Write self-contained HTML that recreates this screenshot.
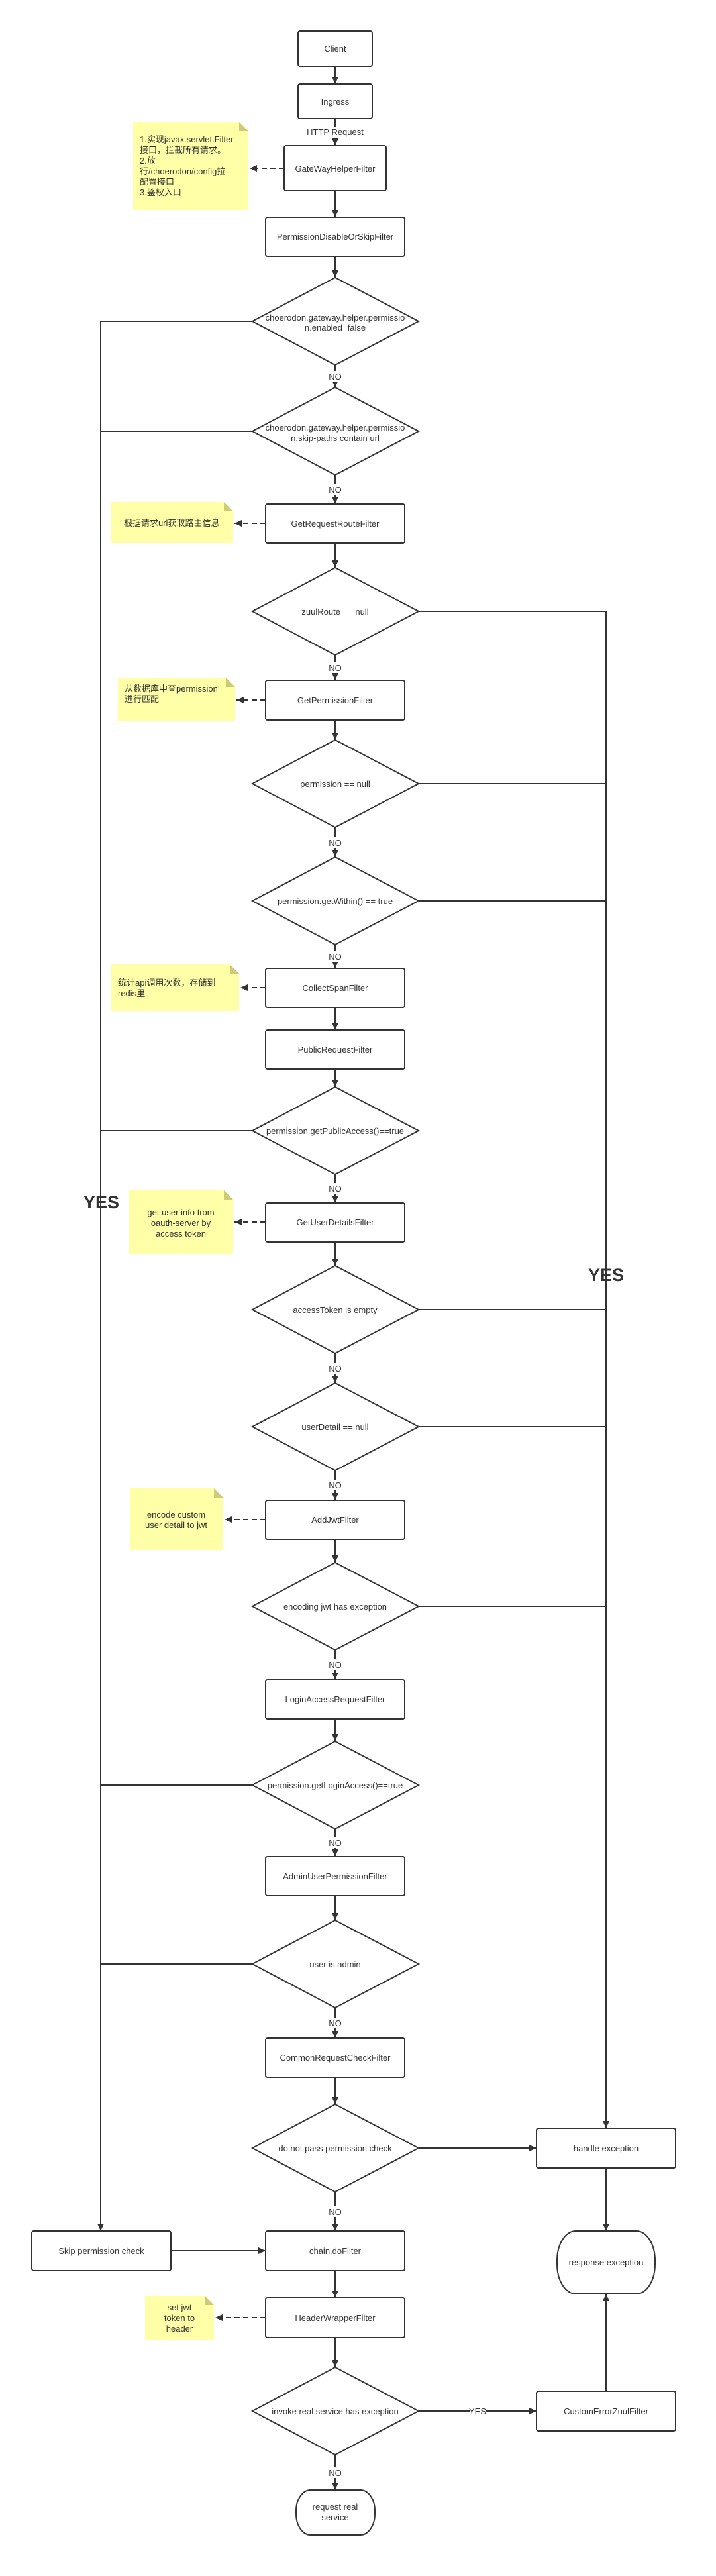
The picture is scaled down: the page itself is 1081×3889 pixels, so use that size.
<!DOCTYPE html>
<html><head><meta charset="utf-8"><style>
html,body{margin:0;padding:0;background:#fff}
svg{display:block}
text{font-family:"Liberation Sans","Noto Sans CJK SC",sans-serif;font-size:13px;fill:#333}
.b{fill:#fff;stroke:#333;stroke-width:2}
.l{stroke:#333;stroke-width:2;fill:none}
.n{fill:#ffffa8}
.f{fill:#cccc77}
.d{stroke:#333;stroke-width:2;fill:none;stroke-dasharray:8,5}
.lb{fill:#fff}
</style></head><body>
<svg width="1081" height="3889" viewBox="0 0 1081 3889" xmlns="http://www.w3.org/2000/svg">
<defs>
<marker id="a" markerUnits="userSpaceOnUse" markerWidth="12" markerHeight="12" refX="11" refY="6" orient="auto"><path d="M0,1 L11,6 L0,11 z" fill="#333"/></marker>
</defs>

<!-- vertical connectors -->
<g class="l" marker-end="url(#a)">
<line x1="506" y1="100" x2="506" y2="127" marker-end="url(#a)"/>
<line x1="506" y1="179" x2="506" y2="220" marker-end="url(#a)"/>
<line x1="506" y1="288" x2="506" y2="328" marker-end="url(#a)"/>
<line x1="506" y1="387" x2="506" y2="419" marker-end="url(#a)"/>
<line x1="506" y1="551" x2="506" y2="585" marker-end="url(#a)"/>
<line x1="506" y1="717" x2="506" y2="761" marker-end="url(#a)"/>
<line x1="506" y1="820" x2="506" y2="857" marker-end="url(#a)"/>
<line x1="506" y1="989" x2="506" y2="1027" marker-end="url(#a)"/>
<line x1="506" y1="1087" x2="506" y2="1117" marker-end="url(#a)"/>
<line x1="506" y1="1249" x2="506" y2="1294" marker-end="url(#a)"/>
<line x1="506" y1="1426" x2="506" y2="1462" marker-end="url(#a)"/>
<line x1="506" y1="1521" x2="506" y2="1555" marker-end="url(#a)"/>
<line x1="506" y1="1614" x2="506" y2="1641" marker-end="url(#a)"/>
<line x1="506" y1="1773" x2="506" y2="1816" marker-end="url(#a)"/>
<line x1="506" y1="1875" x2="506" y2="1911" marker-end="url(#a)"/>
<line x1="506" y1="2043" x2="506" y2="2088" marker-end="url(#a)"/>
<line x1="506" y1="2220" x2="506" y2="2265" marker-end="url(#a)"/>
<line x1="506" y1="2324" x2="506" y2="2359" marker-end="url(#a)"/>
<line x1="506" y1="2491" x2="506" y2="2536" marker-end="url(#a)"/>
<line x1="506" y1="2595" x2="506" y2="2629" marker-end="url(#a)"/>
<line x1="506" y1="2761" x2="506" y2="2803" marker-end="url(#a)"/>
<line x1="506" y1="2862" x2="506" y2="2899" marker-end="url(#a)"/>
<line x1="506" y1="3031" x2="506" y2="3077" marker-end="url(#a)"/>
<line x1="506" y1="3136" x2="506" y2="3177" marker-end="url(#a)"/>
<line x1="506" y1="3309" x2="506" y2="3368" marker-end="url(#a)"/>
<line x1="506" y1="3428" x2="506" y2="3469" marker-end="url(#a)"/>
<line x1="506" y1="3529" x2="506" y2="3574" marker-end="url(#a)"/>
<line x1="506" y1="3706" x2="506" y2="3759" marker-end="url(#a)"/>
</g>
<g class="l">
<!-- left rail -->
<line x1="381" y1="485" x2="152" y2="485"/>
<line x1="381" y1="651" x2="152" y2="651"/>
<line x1="381" y1="1707" x2="152" y2="1707"/>
<line x1="381" y1="2695" x2="152" y2="2695"/>
<line x1="381" y1="2965" x2="152" y2="2965"/>
<line x1="152" y1="484" x2="152" y2="3368" marker-end="url(#a)"/>
<!-- right rail -->
<line x1="632" y1="923" x2="915" y2="923"/>
<line x1="632" y1="1183" x2="915" y2="1183"/>
<line x1="632" y1="1360" x2="915" y2="1360"/>
<line x1="632" y1="1977" x2="915" y2="1977"/>
<line x1="632" y1="2154" x2="915" y2="2154"/>
<line x1="632" y1="2425" x2="915" y2="2425"/>
<line x1="915" y1="922" x2="915" y2="3213" marker-end="url(#a)"/>
<line x1="632" y1="3243" x2="810" y2="3243" marker-end="url(#a)"/>
<line x1="258" y1="3398" x2="401" y2="3398" marker-end="url(#a)"/>
<line x1="915" y1="3273" x2="915" y2="3368" marker-end="url(#a)"/>
<line x1="915" y1="3610" x2="915" y2="3463" marker-end="url(#a)"/>
<line x1="632" y1="3640" x2="810" y2="3640" marker-end="url(#a)"/>
</g>
<!-- dashed note connectors -->
<g class="d">
<line x1="429" y1="254" x2="377" y2="254" marker-end="url(#a)"/>
<line x1="401" y1="790" x2="354" y2="790" marker-end="url(#a)"/>
<line x1="401" y1="1057" x2="357" y2="1057" marker-end="url(#a)"/>
<line x1="401" y1="1491" x2="363" y2="1491" marker-end="url(#a)"/>
<line x1="401" y1="1845" x2="354" y2="1845" marker-end="url(#a)"/>
<line x1="401" y1="2294" x2="339" y2="2294" marker-end="url(#a)"/>
<line x1="401" y1="3499" x2="325" y2="3499" marker-end="url(#a)"/>
</g>

<!-- boxes -->
<g class="b">
<rect x="450" y="47" width="112" height="53" rx="3"/>
<rect x="450" y="127" width="112" height="52" rx="3"/>
<rect x="429" y="220" width="154" height="68" rx="3"/>
<rect x="401" y="328" width="210" height="59" rx="3"/>
<rect x="401" y="761" width="210" height="59" rx="3"/>
<rect x="401" y="1027" width="210" height="60" rx="3"/>
<rect x="401" y="1462" width="210" height="59" rx="3"/>
<rect x="401" y="1555" width="210" height="59" rx="3"/>
<rect x="401" y="1816" width="210" height="59" rx="3"/>
<rect x="401" y="2265" width="210" height="59" rx="3"/>
<rect x="401" y="2536" width="210" height="59" rx="3"/>
<rect x="401" y="2803" width="210" height="59" rx="3"/>
<rect x="401" y="3077" width="210" height="59" rx="3"/>
<rect x="810" y="3213" width="210" height="60" rx="3"/>
<rect x="48" y="3368" width="210" height="60" rx="3"/>
<rect x="401" y="3368" width="210" height="60" rx="3"/>
<rect x="401" y="3469" width="210" height="60" rx="3"/>
<rect x="810" y="3610" width="210" height="60" rx="3"/>
<rect x="841" y="3368" width="148" height="95" rx="28" ry="45"/>
<rect x="447" y="3759" width="119" height="68" rx="22" ry="32"/>
<!-- diamonds -->
<polygon points="506,419 632,485 506,551 381,485"/>
<polygon points="506,585 632,651 506,717 381,651"/>
<polygon points="506,857 632,923 506,989 381,923"/>
<polygon points="506,1117 632,1183 506,1249 381,1183"/>
<polygon points="506,1294 632,1360 506,1426 381,1360"/>
<polygon points="506,1641 632,1707 506,1773 381,1707"/>
<polygon points="506,1911 632,1977 506,2043 381,1977"/>
<polygon points="506,2088 632,2154 506,2220 381,2154"/>
<polygon points="506,2359 632,2425 506,2491 381,2425"/>
<polygon points="506,2629 632,2695 506,2761 381,2695"/>
<polygon points="506,2899 632,2965 506,3031 381,2965"/>
<polygon points="506,3177 632,3243 506,3309 381,3243"/>
<polygon points="506,3574 632,3640 506,3706 381,3640"/>
</g>

<!-- notes -->
<g>
<path class="n" d="M201,184 H361 L375,198 V317 H201 Z"/><path class="f" d="M361,184 L375,198 H361 Z"/>
<path class="n" d="M168,758 H338 L352,772 V820 H168 Z"/><path class="f" d="M338,758 L352,772 H338 Z"/>
<path class="n" d="M178,1023 H341 L355,1037 V1089 H178 Z"/><path class="f" d="M341,1023 L355,1037 H341 Z"/>
<path class="n" d="M168,1456 H347 L361,1470 V1527 H168 Z"/><path class="f" d="M347,1456 L361,1470 H347 Z"/>
<path class="n" d="M195,1797 H338 L352,1811 V1893 H195 Z"/><path class="f" d="M338,1797 L352,1811 H338 Z"/>
<path class="n" d="M196,2247 H323 L337,2261 V2340 H196 Z"/><path class="f" d="M323,2247 L337,2261 H323 Z"/>
<path class="n" d="M219,3466 H309 L323,3480 V3532 H219 Z"/><path class="f" d="M309,3466 L323,3480 H309 Z"/>
</g>

<!-- label backgrounds -->
<g class="lb">
<rect x="460" y="191" width="92" height="17"/>
<rect x="495" y="560" width="22" height="16"/><rect x="495" y="731" width="22" height="16"/>
<rect x="495" y="1000" width="22" height="16"/><rect x="495" y="1264" width="22" height="16"/>
<rect x="495" y="1436" width="22" height="16"/><rect x="495" y="1786" width="22" height="16"/>
<rect x="495" y="2058" width="22" height="16"/><rect x="495" y="2234" width="22" height="16"/>
<rect x="495" y="2505" width="22" height="16"/><rect x="495" y="2774" width="22" height="16"/>
<rect x="495" y="3046" width="22" height="16"/><rect x="495" y="3331" width="22" height="16"/>
<rect x="495" y="3725" width="22" height="16"/><rect x="709" y="3632" width="25" height="16"/>
</g>

<!-- text -->
<g text-anchor="middle">
<text x="506" y="78">Client</text>
<text x="506" y="158">Ingress</text>
<text x="506" y="204">HTTP Request</text>
<text x="506" y="259">GateWayHelperFilter</text>
<text x="506" y="362">PermissionDisableOrSkipFilter</text>
<text x="506" y="484">choerodon.gateway.helper.permissio</text>
<text x="506" y="499">n.enabled=false</text>
<text x="506" y="650">choerodon.gateway.helper.permissio</text>
<text x="506" y="666">n.skip-paths contain url</text>
<text x="506" y="795">GetRequestRouteFilter</text>
<text x="506" y="928">zuulRoute == null</text>
<text x="506" y="1062">GetPermissionFilter</text>
<text x="506" y="1188">permission == null</text>
<text x="506" y="1365">permission.getWithin() == true</text>
<text x="506" y="1496">CollectSpanFilter</text>
<text x="506" y="1589">PublicRequestFilter</text>
<text x="506" y="1712">permission.getPublicAccess()==true</text>
<text x="506" y="1850">GetUserDetailsFilter</text>
<text x="506" y="1982">accessToken is empty</text>
<text x="506" y="2159">userDetail == null</text>
<text x="506" y="2299">AddJwtFilter</text>
<text x="506" y="2430">encoding jwt has exception</text>
<text x="506" y="2570">LoginAccessRequestFilter</text>
<text x="506" y="2700">permission.getLoginAccess()==true</text>
<text x="506" y="2837">AdminUserPermissionFilter</text>
<text x="506" y="2970">user is admin</text>
<text x="506" y="3111">CommonRequestCheckFilter</text>
<text x="506" y="3248">do not pass permission check</text>
<text x="915" y="3248">handle exception</text>
<text x="153" y="3403">Skip permission check</text>
<text x="506" y="3403">chain.doFilter</text>
<text x="915" y="3420">response exception</text>
<text x="506" y="3504">HeaderWrapperFilter</text>
<text x="506" y="3645">invoke real service has exception</text>
<text x="915" y="3645">CustomErrorZuulFilter</text>
<text x="506" y="3789">request real</text>
<text x="506" y="3805">service</text>
<text x="721" y="3645">YES</text>
<g>
<text x="506" y="573">NO</text><text x="506" y="744">NO</text><text x="506" y="1013">NO</text>
<text x="506" y="1277">NO</text><text x="506" y="1449">NO</text><text x="506" y="1799">NO</text>
<text x="506" y="2071">NO</text><text x="506" y="2247">NO</text><text x="506" y="2518">NO</text>
<text x="506" y="2787">NO</text><text x="506" y="3059">NO</text><text x="506" y="3344">NO</text>
<text x="506" y="3738">NO</text>
</g>
<text x="273" y="1835">get user info from</text>
<text x="273" y="1851">oauth-server by</text>
<text x="273" y="1867">access token</text>
<text x="266" y="2291">encode custom</text>
<text x="266" y="2307">user detail to jwt</text>
<text x="271" y="3488">set jwt</text>
<text x="271" y="3504">token to</text>
<text x="271" y="3520">header</text>
<text x="153" y="1824" style="font-size:27px;font-weight:bold">YES</text>
<text x="915" y="1934" style="font-size:27px;font-weight:bold">YES</text>
</g>
<g>
<text x="211" y="215">1.实现javax.servlet.Filter</text>
<text x="211" y="231">接口，拦截所有请求。</text>
<text x="211" y="247">2.放</text>
<text x="211" y="263">行/choerodon/config拉</text>
<text x="211" y="279">配置接口</text>
<text x="211" y="295">3.鉴权入口</text>
<text x="187" y="794">根据请求url获取路由信息</text>
<text x="188" y="1044">从数据库中查permission</text>
<text x="188" y="1060">进行匹配</text>
<text x="178" y="1488">统计api调用次数，存储到</text>
<text x="178" y="1504">redis里</text>
</g>
</svg>
</body></html>
